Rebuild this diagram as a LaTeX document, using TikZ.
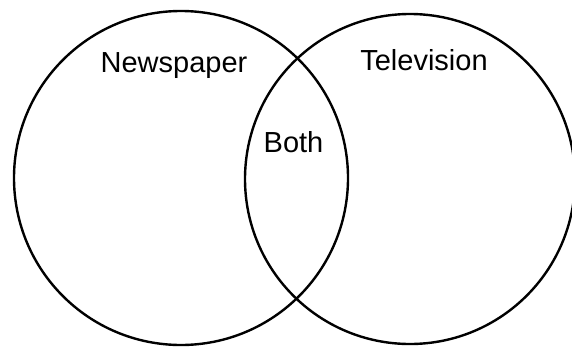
\documentclass[tikz,border=0pt]{standalone}
\usepackage{fontspec}
\setmainfont{Liberation Sans}
\usetikzlibrary{positioning}

\begin{document}
\begin{tikzpicture}[x=1pt,y=1pt,
  ring/.style={circle,draw,line width=2.4pt,inner sep=0pt},
  setname/.style={anchor=base,inner sep=0pt,font=\fontsize{29}{34}\selectfont}]
 \useasboundingbox (0,0) rectangle (572,349);
 \node[ring,minimum size=334pt] (news) at (181,171) {};
 \node[ring,minimum size=330pt] (tv) at (410,170) {};
 \node[setname] (newslabel) at (174,277) {Newspaper};
 \node[setname] (tvlabel) at (424,279) {Television};
 \node[setname] (both) at (293.5,197) {Both};
\end{tikzpicture}
\end{document}
